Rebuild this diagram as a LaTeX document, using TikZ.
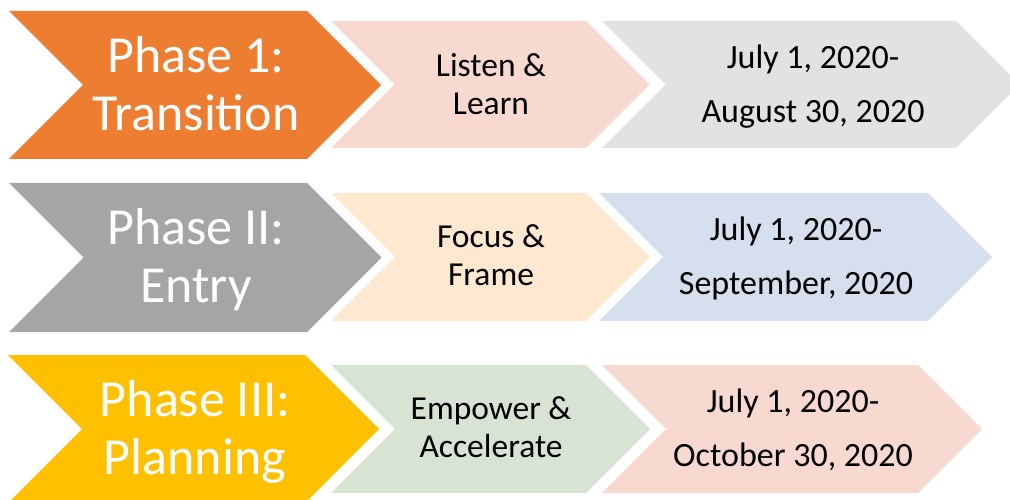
\documentclass[tikz,border=0pt]{standalone}
\usepackage{fontspec}
\setmainfont{Carlito}
\definecolor{phaseorange}{HTML}{ED7D31}
\definecolor{phasegray}{HTML}{A5A5A5}
\definecolor{phasegold}{HTML}{FFC000}
\definecolor{softpink}{HTML}{F8D9D0}
\definecolor{softgray}{HTML}{E2E2E2}
\definecolor{softpeach}{HTML}{FEE8CF}
\definecolor{softblue}{HTML}{D5DFED}
\definecolor{softgreen}{HTML}{D8E4D3}
% chevron: left x, top y, corner x, height, colour
\newcommand{\chev}[5]{\fill[#5] (#1,#2) -- (#3,#2) -- ++({#4/2},{#4/2}) -- ++({-#4/2},{#4/2}) -- ({#1},{#2+#4}) -- ++({#4/2},{-#4/2}) -- cycle;}
\begin{document}
\begin{tikzpicture} [x = 1pt, y = -1pt, phasetext/.style = {text = white, font = \fontsize{52}{58}\selectfont, align = center, text depth = 0pt}, acttext/.style = {font = \fontsize{33.5}{38}\selectfont, align = center, text depth = 0pt}, datetext/.style = {font = \fontsize{34}{54}\selectfont, align = center, text depth = 0pt}]
        \useasboundingbox (0,0) rectangle (1010,500);
        
        \chev{9}{11}{307}{148}{phaseorange}
        \chev{331}{21}{586}{127}{softpink}
        \chev{602}{21}{956}{127}{softgray}
        
        \chev{9}{183}{307}{149}{phasegray}
        \chev{331}{193}{586}{128}{softpeach}
        \chev{599}{193}{928}{128}{softblue}
        
        \chev{8}{355}{305}{148}{phasegold}
        \chev{331}{365}{586}{128}{softgreen}
        \chev{602}{365}{918}{128}{softpink}
        
        \node [phasetext] (p1) at (196,83) {Phase 1:\\Transition};
        \node [acttext] (a1) at (491,84) {Listen \&\\Learn};
        \node [datetext] (d1) at (813,84) {July 1, 2020-\\August 30, 2020};
        
        \node [phasetext] (p2) at (196,255) {Phase II:\\Entry};
        \node [acttext] (a2) at (491,255) {Focus \&\\Frame};
        \node [datetext] (d2) at (796,256) {July 1, 2020-\\September, 2020};
        
        \node [phasetext] (p3) at (195,427) {Phase III:\\Planning};
        \node [acttext] (a3) at (491,427) {Empower \&\\Accelerate};
        \node [datetext] (d3) at (793,428) {July 1, 2020-\\October 30, 2020};
        
    \end{tikzpicture}
\end{document}
